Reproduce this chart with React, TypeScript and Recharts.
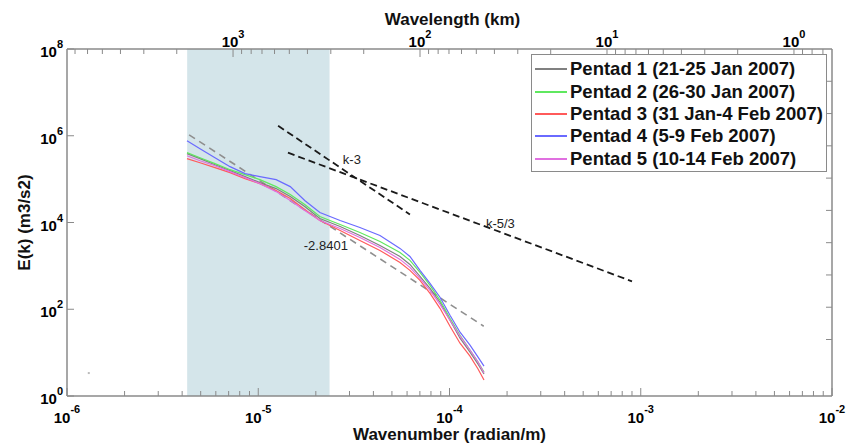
import {
  ComposedChart,
  Line,
  Scatter,
  XAxis,
  YAxis,
  ReferenceArea,
  ReferenceDot,
} from 'recharts'

// wavenumber (radian/m) sampled along the spectra
const wavenumbers = [
  4.24e-6, 4.96e-6, 5.94e-6, 7.12e-6, 8.53e-6, 1.02e-5, 1.24e-5, 1.47e-5, 1.75e-5, 2.1e-5,
  2.68e-5, 3.4e-5, 4.33e-5, 5.51e-5, 6.21e-5, 7.01e-5, 7.91e-5, 8.92e-5, 1.006e-4, 1.135e-4,
  1.28e-4, 1.41e-4, 1.515e-4,
]

const pentad1 = [
  3.86e5, 2.96e5, 2.15e5, 1.57e5, 1.14e5, 8.31e4, 6.05e4, 3.96e4, 2.33e4, 1.24e4, 8.09e3, 5.02e3,
  2.96e3, 1.65e3, 1.08e3, 574, 304, 145, 55.8, 21.5, 10.3, 5.44, 3.21,
]
const pentad2 = [
  4.07e5, 3.12e5, 2.27e5, 1.65e5, 1.27e5, 9.74e4, 6.72e4, 4.4e4, 2.59e4, 1.37e4, 9.0e3, 5.89e3,
  3.66e3, 2.04e3, 1.34e3, 709, 356, 161, 62.1, 25.2, 11.4, 6.05, 3.56,
]
const pentad3 = [
  2.96e5, 2.39e5, 1.84e5, 1.41e5, 1.03e5, 7.88e4, 5.44e4, 3.56e4, 1.99e4, 1.11e4, 6.55e3, 3.86e3,
  2.27e3, 1.2e3, 788, 464, 233, 105, 40.6, 16.5, 8.31, 4.18, 2.33,
]
const pentad4 = [
  7.67e5, 5.03e5, 3.12e5, 1.94e5, 1.34e5, 1.14e5, 9.74e4, 6.72e4, 3.21e4, 1.7e4, 1.11e4, 7.67e3,
  5.02e3, 2.53e3, 1.65e3, 788, 396, 189, 72.8, 29.6, 14.9, 7.88, 4.9,
]
const pentad5 = [
  3.47e5, 2.66e5, 2.04e5, 1.49e5, 1.08e5, 7.88e4, 5.16e4, 3.21e4, 1.89e4, 1.11e4, 7.28e3, 4.52e3,
  2.66e3, 1.41e3, 924, 516, 273, 130, 55.8, 23.9, 11.4, 6.05, 3.38,
]

const seriesNames = [
  'Pentad 1 (21-25 Jan 2007)',
  'Pentad 2 (26-30 Jan 2007)',
  'Pentad 3 (31 Jan-4 Feb 2007)',
  'Pentad 4 (5-9 Feb 2007)',
  'Pentad 5 (10-14 Feb 2007)',
]
const seriesColors = ['#808080', '#5fe85f', '#ff5a5a', '#6a6aff', '#e070e0']

// reference slopes and the fitted line
const slope3K = [1.27e-5, 6.21e-5]
const slope3E = [1.7e6, 1.53e4]
const slope53K = [1.43e-5, 9.0e-4]
const slope53E = [4.07e5, 440]
const fitK = [4.35e-6, 1.51e-4]
const fitE = [1.05e6, 40.6]

// shaded band
const bandK = [4.25e-6, 2.36e-5]

// axis ticks
const kMajor = [1e-6, 1e-5, 1e-4, 1e-3, 1e-2]
const kMinor = [1e-6, 1e-5, 1e-4, 1e-3].flatMap((d) => [2, 3, 4, 5, 6, 7, 8, 9].map((m) => m * d))
const wlMajor = [1000, 100, 10, 1]
const wlMinor = [
  2000, 3000, 4000, 5000, 6000, 7000, 200, 300, 400, 500, 600, 700, 800, 900, 20, 30, 40, 50,
  60, 70, 80, 90, 2, 3, 4, 5, 6, 7, 8, 9, 0.7, 0.8, 0.9,
]
const eMajor = [1, 1e2, 1e4, 1e6, 1e8]
const rightTicks = [0.1, 0.2, 0.3, 0.4, 0.5, 0.6, 0.7, 0.8, 0.9]

const axisColor = '#8a8a8a'
const font = '"Liberation Sans", Arial, sans-serif'

const toPoints = (ks: number[], es: number[]) => ks.map((k, i) => ({ k, E: es[i] }))
const spectra = [pentad1, pentad2, pentad3, pentad4, pentad5].map((s) => toPoints(wavenumbers, s))

const exp10 = (v: number) => Math.round(Math.log10(v))

function KTick({ x, y, payload }: any) {
  const major = kMajor.includes(payload.value)
  return (
    <g>
      <line x1={x} x2={x} y1={y} y2={y - (major ? 8 : 5)} stroke={axisColor} />
      {major && (
        <text x={x} y={y + 27} textAnchor="middle" fontSize={15} fontWeight="bold" fill="#000">
          10
          <tspan dy={-10} fontSize={11}>
            {exp10(payload.value)}
          </tspan>
        </text>
      )}
    </g>
  )
}

function WlTick({ x, y, payload }: any) {
  const major = wlMajor.includes(payload.value)
  return (
    <g>
      <line x1={x} x2={x} y1={y} y2={y + (major ? 8 : 5)} stroke={axisColor} />
      {major && (
        <text x={x} y={y - 2} textAnchor="middle" fontSize={15} fontWeight="bold" fill="#000">
          10
          <tspan dy={-9} fontSize={11}>
            {exp10(payload.value)}
          </tspan>
        </text>
      )}
    </g>
  )
}

function ETick({ x, y, payload }: any) {
  return (
    <g>
      <line x1={x} x2={x + 7} y1={y} y2={y} stroke={axisColor} />
      <text x={x - 4} y={y + 8} textAnchor="end" fontSize={15} fontWeight="bold" fill="#000">
        10
        <tspan dy={-9} fontSize={11}>
          {exp10(payload.value)}
        </tspan>
      </text>
    </g>
  )
}

function RightTick({ x, y }: any) {
  return <line x1={x} x2={x - 6} y1={y} y2={y} stroke={axisColor} />
}

function AnnText({ cx, cy, text }: any) {
  return (
    <text x={cx} y={cy} fontSize={13} fill="#222">
      {text}
    </text>
  )
}

function LegendBox() {
  return (
    <div
      style={{
        position: 'absolute',
        left: 531,
        top: 54,
        width: 296,
        height: 118,
        border: `1px solid ${axisColor}`,
        background: '#fff',
        paddingTop: 3,
        boxSizing: 'border-box',
      }}
    >
      {seriesNames.map((name, i) => (
        <div
          key={name}
          style={{ display: 'flex', alignItems: 'center', height: 22.4, whiteSpace: 'nowrap' }}
        >
          <span
            style={{
              display: 'inline-block',
              width: 32,
              height: 2,
              marginLeft: 3,
              marginRight: 3,
              background: seriesColors[i],
            }}
          />
          <span style={{ fontSize: 18.5, fontWeight: 'bold', color: '#111' }}>{name}</span>
        </div>
      ))}
    </div>
  )
}

export default function App() {
  return (
    <div
      style={{ position: 'absolute', left: 0, top: 0, width: 850, height: 448, fontFamily: font }}
    >
      <ComposedChart width={850} height={448} margin={{ top: 0, right: 0, bottom: 0, left: 0 }}>
        <XAxis
          xAxisId="k"
          dataKey="k"
          type="number"
          scale="log"
          domain={[1e-6, 1e-2]}
          allowDataOverflow
          ticks={[...kMajor, ...kMinor]}
          interval={0}
          tick={(p: any) => <KTick {...p} />}
          tickLine={false}
          tickSize={0}
          tickMargin={0}
          axisLine={{ stroke: axisColor, strokeWidth: 1.5 }}
          height={52}
          label={({ viewBox }: any) => (
            <text
              x={viewBox.x + viewBox.width / 2}
              y={viewBox.y + 44}
              textAnchor="middle"
              fontSize={17}
              fontWeight="bold"
              fill="#111"
            >
              Wavenumber (radian/m)
            </text>
          )}
        />
        <XAxis
          xAxisId="wl"
          orientation="top"
          dataKey="wl"
          type="number"
          scale="log"
          domain={[0.626, 7727]}
          reversed
          allowDataOverflow
          ticks={[...wlMajor, ...wlMinor]}
          interval={0}
          tick={(p: any) => <WlTick {...p} />}
          tickLine={false}
          tickSize={0}
          tickMargin={0}
          axisLine={{ stroke: axisColor, strokeWidth: 1.5 }}
          height={49}
          label={({ viewBox }: any) => (
            <text
              x={viewBox.x + viewBox.width / 2 + 3}
              y={viewBox.y + 25}
              textAnchor="middle"
              fontSize={17}
              fontWeight="bold"
              fill="#111"
            >
              Wavelength (km)
            </text>
          )}
        />
        <YAxis
          yAxisId="E"
          dataKey="E"
          type="number"
          scale="log"
          domain={[1, 1e8]}
          allowDataOverflow
          ticks={eMajor}
          interval={0}
          tick={(p: any) => <ETick {...p} />}
          tickLine={false}
          tickSize={0}
          tickMargin={0}
          axisLine={{ stroke: axisColor, strokeWidth: 1.5 }}
          width={67}
          label={({ viewBox }: any) => {
            const cx = 30
            const cy = viewBox.y + viewBox.height / 2
            return (
              <text
                x={cx}
                y={cy}
                transform={`rotate(-90 ${cx} ${cy})`}
                textAnchor="middle"
                fontSize={17}
                fontWeight="bold"
                fill="#111"
              >
                E(k) (m3/s2)
              </text>
            )
          }}
        />
        <YAxis
          yAxisId="r"
          orientation="right"
          type="number"
          domain={[-0.075, 1]}
          allowDataOverflow
          ticks={rightTicks}
          interval={0}
          tick={(p: any) => <RightTick {...p} />}
          tickLine={false}
          tickSize={0}
          tickMargin={0}
          axisLine={{ stroke: axisColor, strokeWidth: 1.5 }}
          width={18}
        />

        <ReferenceArea
          xAxisId="k"
          yAxisId="E"
          x1={bandK[0]}
          x2={bandK[1]}
          y1={1}
          y2={1e8}
          fill="#d4e5ea"
          fillOpacity={1}
          stroke="none"
        />

        <Line
          xAxisId="k"
          yAxisId="E"
          data={toPoints(fitK, fitE)}
          dataKey="E"
          stroke="#8f8f8f"
          strokeWidth={1.6}
          strokeDasharray="7 5"
          dot={false}
          isAnimationActive={false}
        />
        {spectra.map((pts, i) => (
          <Line
            key={seriesNames[i]}
            xAxisId="k"
            yAxisId="E"
            data={pts}
            dataKey="E"
            name={seriesNames[i]}
            stroke={seriesColors[i]}
            strokeWidth={1.2}
            dot={false}
            isAnimationActive={false}
          />
        ))}
        <Line
          xAxisId="k"
          yAxisId="E"
          data={toPoints(slope3K, slope3E)}
          dataKey="E"
          stroke="#1a1a1a"
          strokeWidth={1.8}
          strokeDasharray="7 4"
          dot={false}
          isAnimationActive={false}
        />
        <Line
          xAxisId="k"
          yAxisId="E"
          data={toPoints(slope53K, slope53E)}
          dataKey="E"
          stroke="#1a1a1a"
          strokeWidth={1.8}
          strokeDasharray="7 4"
          dot={false}
          isAnimationActive={false}
        />
        <Scatter
          xAxisId="k"
          yAxisId="E"
          data={[{ k: 1.3e-6, E: 3.38 }]}
          dataKey="E"
          isAnimationActive={false}
          shape={(p: any) => (
            <rect x={p.cx - 1} y={p.cy - 1} width={2} height={2} fill="#bbb" />
          )}
        />

        <ReferenceDot
          xAxisId="k"
          yAxisId="E"
          x={2.77e-5}
          y={2.27e5}
          r={0}
          shape={(p: any) => <AnnText {...p} text="k-3" />}
        />
        <ReferenceDot
          xAxisId="k"
          yAxisId="E"
          x={1.55e-4}
          y={7.28e3}
          r={0}
          shape={(p: any) => <AnnText {...p} text="k-5/3" />}
        />
        <ReferenceDot
          xAxisId="k"
          yAxisId="E"
          x={1.73e-5}
          y={2.27e3}
          r={0}
          shape={(p: any) => <AnnText {...p} text="-2.8401" />}
        />
      </ComposedChart>
      <LegendBox />
    </div>
  )
}
